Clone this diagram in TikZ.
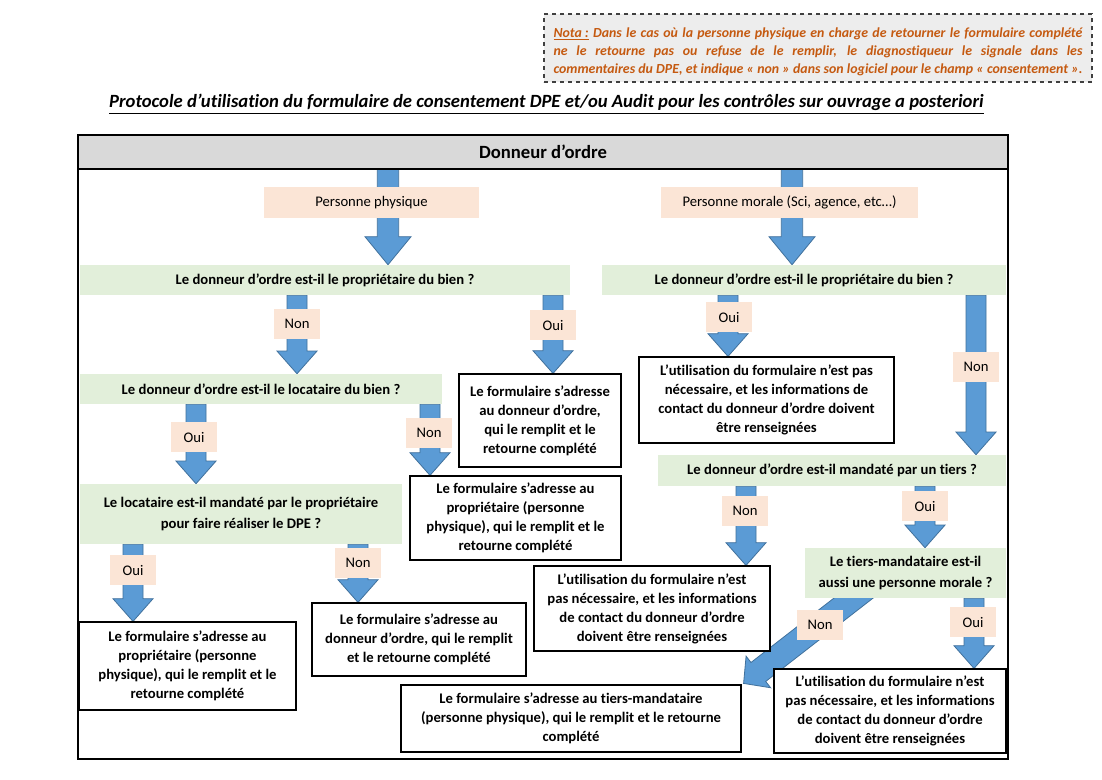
\documentclass[tikz,border=0pt]{standalone}
\usepackage{fontspec}
\setmainfont{Carlito}[Ligatures=NoCommon]
\usetikzlibrary{calc}
\definecolor{arrblue}{HTML}{5B9BD5}
\definecolor{arrline}{HTML}{41719C}
\definecolor{peach}{HTML}{FBE5D6}
\definecolor{grn}{HTML}{E2EFDA}
\definecolor{hdrgray}{HTML}{D9D9D9}
\definecolor{notafill}{HTML}{EDEDED}
\definecolor{notaline}{HTML}{404040}
\definecolor{notatext}{HTML}{C55A11}
\pgfdeclarelayer{back}\pgfdeclarelayer{arrows}\pgfsetlayers{back,arrows,main}
\newcommand\bodyfont{\fontsize{11}{14.25}\selectfont}
\newcommand\blockarrow[5]{%
  \coordinate (bah) at ($(#2)!#5!(#1)$);
  \draw[blockarr] ($(#1)!#3!90:(#2)$) -- ($(bah)!#3!90:(#2)$) -- ($(bah)!#4!90:(#2)$) -- (#2)
    -- ($(bah)!#4!-90:(#2)$) -- ($(bah)!#3!-90:(#2)$) -- ($(#1)!#3!-90:(#2)$) -- cycle;}
\newcommand\barrow[2]{\blockarrow{#1}{#2}{7.5pt}{15pt}{17pt}}
\newcommand\bigbarrow[2]{\blockarrow{#1}{#2}{8pt}{17.25pt}{21pt}}
\tikzset{
  box/.style n args={4}{minimum width={(#3-#1)*0.75pt}, minimum height={(#4-#2)*0.75pt},
     at={({(#1+#3)/2},{(#2+#4)/2})}},
  gbox/.style={fill=grn, inner sep=0pt, font=\bodyfont\bfseries, align=center},
  wbox/.style={draw=black, line width=0.9pt, fill=white, inner sep=0pt, font=\bodyfont\bfseries, align=center},
  pbox/.style={fill=peach, inner sep=0pt, font=\bodyfont, align=center},
  lbl/.style={fill=peach, inner sep=0pt, minimum width=34.5pt, minimum height=23pt, font=\bodyfont},
  blockarr/.style={draw=arrline, fill=arrblue, line width=0.6pt, line join=miter},
}
\begin{document}
\begin{tikzpicture}[x=0.75pt, y=-0.75pt]
\useasboundingbox (0,0) rectangle (1102,779);
\begin{pgfonlayer}{back}
\fill[white] (0,0) rectangle (1102,779);
\end{pgfonlayer}

% Nota
\node[box={544}{14}{1092}{82}, inner sep=0pt, draw=notaline, dashed, line width=0.9pt, fill=notafill] (notabox) {};
\node[text width=396.75pt, inner sep=0pt, align=justify, text=notatext,
      font=\fontsize{10.4}{13.5}\selectfont\bfseries\itshape] (nota) at ($(notabox.center)+(0,4)$) {%
\makebox[\linewidth][s]{\underline{Nota :} Dans le cas où la personne physique en charge de retourner le formulaire complété}\\
\makebox[\linewidth][s]{ne le retourne pas ou refuse de le remplir, le diagnostiqueur le signale dans les}\\
\makebox[\linewidth][s]{commentaires du DPE, et indique « non » dans son logiciel pour le champ « consentement ».}};

% Title
\node[inner sep=0pt, font=\fontsize{14}{17}\selectfont\bfseries\itshape] (title) at (546.5,104)
  {\underline{Protocole d’utilisation du formulaire de consentement DPE et/ou Audit pour les contrôles sur ouvrage a posteriori}};

% Header and frame
\node[box={78}{135}{1008}{169}, inner sep=0pt, fill=hdrgray, font=\fontsize{14}{17}\selectfont\bfseries] (hdr) {Donneur d’ordre};
\draw[line width=1.8pt] (hdr.south west) -- (hdr.south east);
\node[box={78}{135}{1008}{759}, inner sep=0pt, draw=black, line width=2.2pt] (frame) {};

% Left branch
\node[pbox, box={264}{187}{479}{218}] (pp) {Personne physique};
\node[gbox, box={80}{265}{570}{295}] (g1) {Le donneur d’ordre est-il le propriétaire du bien ?};
\node[wbox, box={459}{374}{621}{467}] (w1) {Le formulaire s’adresse\\au donneur d’ordre,\\qui le remplit et le\\retourne complété};
\node[gbox, box={80}{374}{442}{404}] (g2) {Le donneur d’ordre est-il le locataire du bien ?};
\node[wbox, box={410}{476}{621}{560}] (w2) {Le formulaire s’adresse au\\propriétaire (personne\\physique), qui le remplit et le\\retourne complété};
\node[gbox, box={80}{484}{402}{544}, font=\fontsize{11}{15.75}\selectfont\bfseries] (g3) {Le locataire est-il mandaté par le propriétaire\\pour faire réaliser le DPE ?};
\node[wbox, box={79}{622}{296}{710}] (w3) {Le formulaire s’adresse au\\propriétaire (personne\\physique), qui le remplit et le\\retourne complété};
\node[wbox, box={312}{603}{526}{676}] (w4) {Le formulaire s’adresse au\\donneur d’ordre, qui le remplit\\et le retourne complété};

% Right branch
\node[pbox, box={661}{187}{918}{218}] (pm) {Personne morale (Sci, agence, etc…)};
\node[gbox, box={602}{265}{1006}{295}] (g4) {Le donneur d’ordre est-il le propriétaire du bien ?};
\node[wbox, box={639}{357}{894}{443}] (w5) {L’utilisation du formulaire n’est pas\\nécessaire, et les informations de\\contact du donneur d’ordre doivent\\être renseignées};
\node[gbox, box={658}{455}{1006}{486}] (g5) {Le donneur d’ordre est-il mandaté par un tiers ?};
\node[wbox, box={534}{566}{770}{651}] (w6) {L’utilisation du formulaire n’est\\pas nécessaire, et les informations\\de contact du donneur d’ordre\\doivent être renseignées};
\node[gbox, box={805}{548}{1006}{598}, font=\fontsize{11}{15.75}\selectfont\bfseries] (g6) {Le tiers-mandataire est-il\\aussi une personne morale ?};
\node[wbox, box={774}{669}{1006}{753}] (w7) {L’utilisation du formulaire n’est\\pas nécessaire, et les informations\\de contact du donneur d’ordre\\doivent être renseignées};
\node[wbox, box={401}{685}{741}{752}] (w8) {Le formulaire s’adresse au tiers-mandataire\\(personne physique), qui le remplit et le retourne\\complété};

% Connector end points
\coordinate (a1s) at (388,0 |- hdr.south);  \coordinate (a1e) at (388,0 |- g1.north);
\coordinate (b1s) at (792,0 |- hdr.south);  \coordinate (b1e) at (792,0 |- g4.north);
\coordinate (a2s) at (297,0 |- g1.south);   \coordinate (a2e) at (297,0 |- g2.north);
\coordinate (a3s) at (553,0 |- g1.south);   \coordinate (a3e) at (553,0 |- w1.north);
\coordinate (a4s) at (196,0 |- g2.south);   \coordinate (a4e) at (196,0 |- g3.north);
\coordinate (a5s) at (430,0 |- g2.south);   \coordinate (a5e) at (430,0 |- w2.north);
\coordinate (a6s) at (133,0 |- g3.south);   \coordinate (a6e) at (133,0 |- w3.north);
\coordinate (a7s) at (358,0 |- g3.south);   \coordinate (a7e) at (358,0 |- w4.north);
\coordinate (b2s) at (728,0 |- g4.south);   \coordinate (b2e) at (728,0 |- w5.north);
\coordinate (b3s) at (976,0 |- g4.south);   \coordinate (b3e) at (976,0 |- g5.north);
\coordinate (b4s) at (746,0 |- g5.south);   \coordinate (b4e) at (746,0 |- w6.north);
\coordinate (b5s) at (925,0 |- g5.south);   \coordinate (b5e) at (925,0 |- g6.north);
\coordinate (b6s) at ($(870,0 |- g6.south)+(0,-13)$); \coordinate (b6e) at ($(w8.north east)+(2,-1)$);
\coordinate (b7s) at (974,0 |- g6.south);   \coordinate (b7e) at (974,0 |- w7.north);

\begin{pgfonlayer}{arrows}
\bigbarrow{a1s}{a1e}
\bigbarrow{b1s}{b1e}
\barrow{a2s}{a2e}
\barrow{a3s}{a3e}
\barrow{a4s}{a4e}
\barrow{a5s}{a5e}
\barrow{a6s}{a6e}
\barrow{a7s}{a7e}
\barrow{b2s}{b2e}
\barrow{b3s}{b3e}
\barrow{b4s}{b4e}
\barrow{b5s}{b5e}
\blockarrow{b6s}{b6e}{9pt}{15pt}{14pt}
\barrow{b7s}{b7e}
\end{pgfonlayer}

% Labels
\node[lbl] (l1) at (297,324) {Non};
\node[lbl] (l2) at (553,325) {Oui};
\node[lbl] (l3) at (194,437) {Oui};
\node[lbl] (l4) at (429,433) {Non};
\node[lbl] (l5) at (133,570) {Oui};
\node[lbl] (l6) at (358,563) {Non};
\node[lbl] (l7) at (729,317) {Oui};
\node[lbl] (l8) at (976,367) {Non};
\node[lbl] (l9) at (745,511) {Non};
\node[lbl] (l10) at (925,506) {Oui};
\node[lbl] (l11) at (820,625) {Non};
\node[lbl] (l12) at (973,622) {Oui};
\end{tikzpicture}
\end{document}
